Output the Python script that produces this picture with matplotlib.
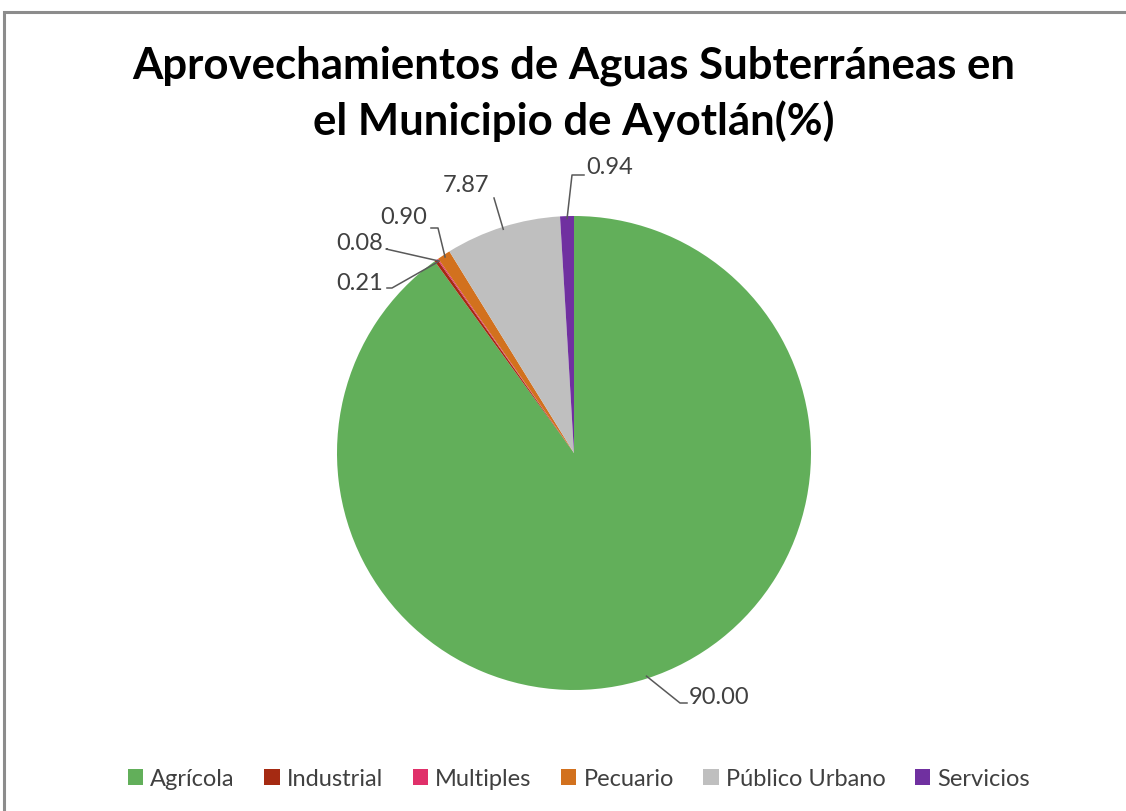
import numpy as np
import matplotlib.pyplot as plt
from matplotlib.patches import Rectangle

# Data
categorias = ["Agrícola", "Industrial", "Multiples", "Pecuario", "Público Urbano", "Servicios"]
porcentajes = [90.00, 0.21, 0.08, 0.90, 7.87, 0.94]
etiquetas = ["90.00", "0.21", "0.08", "0.90", "7.87", "0.94"]
colores = ["#62AF5A", "#A52A12", "#E0306A", "#D2711E", "#BFBFBF", "#7030A0"]

W, H = 1126, 811
fig = plt.figure(figsize=(W / 100, H / 100), dpi=100)
plt.rcParams['font.family'] = ['Lato', 'DejaVu Sans']

# chart border (gray, cut at right/bottom)
fig.patches.append(Rectangle((4 / W, -0.05), 1.2, 1 - 12 / H + 0.05, transform=fig.transFigure,
                             fill=False, edgecolor="#8c8c8c", linewidth=2.2))

cx, cy, r = 574, 453, 237
ax = fig.add_axes([(cx - r) / W, (H - cy - r) / H, 2 * r / W, 2 * r / H])
wedges, _ = ax.pie(porcentajes, colors=colores, startangle=90, counterclock=False,
                   wedgeprops=dict(linewidth=0))
ax.set_xlim(-1, 1)
ax.set_ylim(-1, 1)
ax.set_aspect("equal")
ax.axis("off")


def d(px, py):
    return ((px - cx) / r, (cy - py) / r)


# label positions in pixels: (text x, text y, ha, elbow x, elbow y)
lab_pos = [
    (689, 698, "left", 680, 703),
    (383, 283, "right", 392, 288),
    (383, 244, "right", 386, 249),
    (427, 218, "right", 438, 228),
    (466, 186, "center", 494, 198),
    (586, 168, "left", 572, 175),
]

for w, lab, (tx, ty, ha, ex, ey) in zip(wedges, etiquetas, lab_pos):
    ang = np.deg2rad((w.theta1 + w.theta2) / 2)
    sx, sy = np.cos(ang) * 0.99, np.sin(ang) * 0.99
    exd, eyd = d(ex, ey)
    xs = [sx, exd]
    ys = [sy, eyd]
    if ha == "left":
        xs.append(d(tx - 2, ey)[0]); ys.append(eyd)
    elif ha == "right":
        xs.append(d(tx + 4, ey)[0]); ys.append(eyd)
    ax.plot(xs, ys, color="#595959", linewidth=1.1, clip_on=False)
    txd, tyd = d(tx, ty)
    ax.text(txd, tyd, lab, ha=ha, va="center", fontsize=17, color="#404040", clip_on=False)

fig.text(574 / W, 1 - 94 / H, "Aprovechamientos de Aguas Subterráneas en\nel Municipio de Ayotlán(%)",
         ha="center", va="center", fontsize=31.5, fontweight="bold", color="#000000",
         linespacing=1.4)

handles = [Rectangle((0, 0), 1, 1, facecolor=c, edgecolor="none") for c in colores]
fig.legend(handles, categorias, loc="center", bbox_to_anchor=(579 / W, 1 - 779 / H), ncol=6,
           frameon=False, fontsize=17, handlelength=0.65, handleheight=0.65, handletextpad=0.3,
           columnspacing=1.25, labelcolor="#404040")

fig.savefig("out.png", dpi=100)
